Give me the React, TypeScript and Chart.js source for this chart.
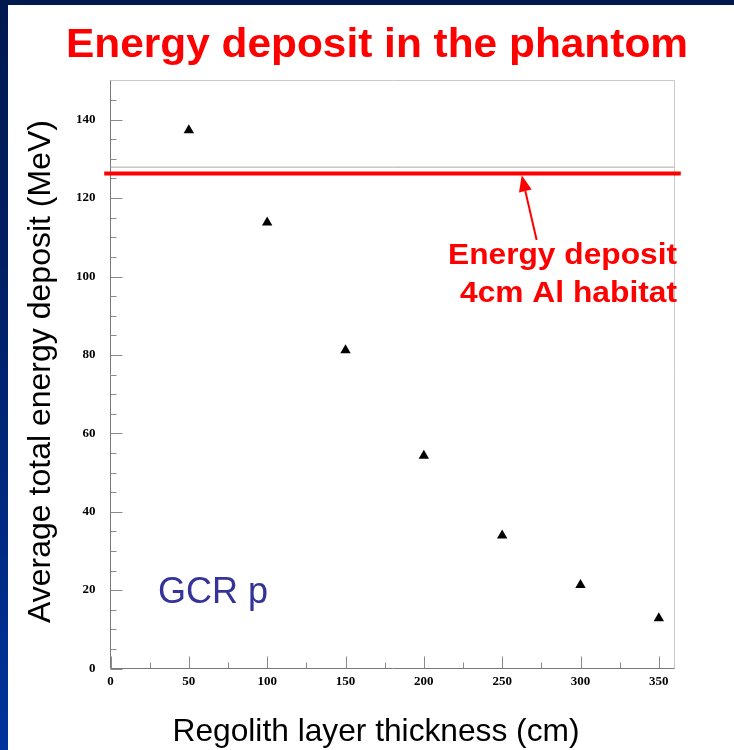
import React, { useEffect, useRef } from "react";
import { Chart, registerables } from "chart.js";

Chart.register(...registerables);

// ---- Data ----
const thicknessCm = [50, 100, 150, 200, 250, 300, 350];
const avgDepositMeV = [137.3, 113.8, 81.2, 54.3, 33.9, 21.3, 12.8];
const xMajorTicks = [0, 50, 100, 150, 200, 250, 300, 350];
const yMajorTicks = [0, 20, 40, 60, 80, 100, 120, 140];
const habitatDeposit = 126.3; // 4cm Al habitat level (red line)
const referenceLevel = 127.9; // thin grey line
const redLineSpan = [-4, 364];
const greyLineSpan = [0, 360];
const arrowTail = { x: 272.0, y: 109.3 };
const arrowTip = { x: 262.5, y: 125.8 };

const titleText = "Energy deposit in the phantom";
const xTitle = "Regolith layer thickness (cm)";
const yTitle = "Average total energy deposit (MeV)";
const noteLines = ["Energy deposit", "4cm Al habitat"];
const seriesLabel = "GCR p";

const SANS = '"Liberation Sans", Arial, Helvetica, sans-serif';
const SERIF = '"Liberation Serif", "Times New Roman", serif';

function fitText(
  ctx: CanvasRenderingContext2D,
  text: string,
  x: number,
  y: number,
  font: string,
  color: string,
  width: number | null,
  align: "left" | "right" | "center"
) {
  ctx.save();
  ctx.font = font;
  ctx.fillStyle = color;
  ctx.textBaseline = "alphabetic";
  ctx.textAlign = "left";
  const w = ctx.measureText(text).width;
  const s = width ? width / w : 1;
  const left = align === "left" ? x : align === "right" ? x - w * s : x - (w * s) / 2;
  ctx.translate(left, y);
  ctx.scale(s, 1);
  ctx.fillText(text, 0, 0);
  ctx.restore();
}

const decorPlugin = {
  id: "decor",
  beforeDraw(chart: any) {
    const ctx: CanvasRenderingContext2D = chart.ctx;
    const W = chart.width;
    const H = chart.height;
    ctx.save();
    ctx.fillStyle = "#001a50";
    ctx.fillRect(0, 0, W, H);
    ctx.fillStyle = "#ffffff";
    ctx.fillRect(8, 5, W - 8, H - 5);
    const g = ctx.createLinearGradient(0, 0, 0, H);
    g.addColorStop(0, "#001a50");
    g.addColorStop(0.35, "#001f63");
    g.addColorStop(1, "#00339c");
    ctx.fillStyle = g;
    ctx.fillRect(0, 5, 8, H - 5);
    ctx.restore();
  },
  beforeDatasetsDraw(chart: any) {
    const ctx: CanvasRenderingContext2D = chart.ctx;
    const a = chart.chartArea;
    const xs = chart.scales.x;
    const ys = chart.scales.y;
    ctx.save();
    ctx.lineWidth = 1;
    // frame
    ctx.strokeStyle = "#c8c8c8";
    ctx.beginPath();
    ctx.moveTo(a.left, a.top);
    ctx.lineTo(a.right, a.top);
    ctx.lineTo(a.right, a.bottom);
    ctx.stroke();
    ctx.strokeStyle = "#7a7a7a";
    ctx.beginPath();
    ctx.moveTo(a.left, a.top);
    ctx.lineTo(a.left, a.bottom);
    ctx.lineTo(a.right, a.bottom);
    ctx.stroke();
    // inner ticks
    ctx.strokeStyle = "#8a8a8a";
    ctx.beginPath();
    for (let v = 0; v < 150; v += 5) {
      const py = Math.round(ys.getPixelForValue(v)) + 0.5;
      const len = v % 20 === 0 ? 12 : 6;
      ctx.moveTo(a.left, py);
      ctx.lineTo(a.left + len, py);
    }
    for (let v = 0; v <= 350; v += 25) {
      const px = Math.round(xs.getPixelForValue(v)) + 0.5;
      const len = v % 50 === 0 ? 12 : 6;
      ctx.moveTo(px, a.bottom);
      ctx.lineTo(px, a.bottom - len);
    }
    ctx.stroke();
    ctx.restore();
  },
  afterDraw(chart: any) {
    const ctx: CanvasRenderingContext2D = chart.ctx;
    const xs = chart.scales.x;
    const ys = chart.scales.y;
    // title
    fitText(ctx, titleText, 66, 57, `bold 40px ${SANS}`, "#ff0000", 622, "left");
    // axis titles
    fitText(ctx, xTitle, 376, 741, `32px ${SANS}`, "#000000", 407, "center");
    ctx.save();
    ctx.translate(50, 623);
    ctx.rotate(-Math.PI / 2);
    fitText(ctx, yTitle, 0, 0, `32px ${SANS}`, "#000000", 503, "left");
    ctx.restore();
    // series label
    fitText(ctx, seriesLabel, 158, 603, `36px ${SANS}`, "#333399", 110, "left");
    // annotation text
    fitText(ctx, noteLines[0], 677, 264, `bold 30px ${SANS}`, "#ff0000", 229, "right");
    fitText(ctx, noteLines[1], 677, 302, `bold 30px ${SANS}`, "#ff0000", 217, "right");
    // arrow
    const tx = xs.getPixelForValue(arrowTail.x);
    const ty = ys.getPixelForValue(arrowTail.y);
    const hx = xs.getPixelForValue(arrowTip.x);
    const hy = ys.getPixelForValue(arrowTip.y);
    const ang = Math.atan2(hy - ty, hx - tx);
    const headLen = 16;
    const headHalf = 6.5;
    const bx = hx - Math.cos(ang) * headLen;
    const by = hy - Math.sin(ang) * headLen;
    ctx.save();
    ctx.strokeStyle = "#ff0000";
    ctx.fillStyle = "#ff0000";
    ctx.lineWidth = 2;
    ctx.beginPath();
    ctx.moveTo(tx, ty);
    ctx.lineTo(bx, by);
    ctx.stroke();
    ctx.beginPath();
    ctx.moveTo(hx, hy);
    ctx.lineTo(bx + Math.sin(ang) * headHalf, by - Math.cos(ang) * headHalf);
    ctx.lineTo(bx - Math.sin(ang) * headHalf, by + Math.cos(ang) * headHalf);
    ctx.closePath();
    ctx.fill();
    ctx.restore();
  },
};

export default function App() {
  const ref = useRef<HTMLCanvasElement | null>(null);

  useEffect(() => {
    if (!ref.current) return;
    const chart = new Chart(ref.current, {
      type: "scatter",
      data: {
        datasets: [
          {
            label: "4cm Al habitat",
            data: redLineSpan.map((x) => ({ x, y: habitatDeposit })),
            showLine: true,
            borderColor: "#ff0000",
            borderWidth: 4,
            pointRadius: 0,
            clip: false as any,
          },
          {
            label: "reference",
            data: greyLineSpan.map((x) => ({ x, y: referenceLevel })),
            showLine: true,
            borderColor: "#a8a8a8",
            borderWidth: 1,
            pointRadius: 0,
          },
          {
            label: seriesLabel,
            data: thicknessCm.map((x, i) => ({ x, y: avgDepositMeV[i] })),
            pointStyle: "triangle",
            pointRadius: 6,
            backgroundColor: "#000000",
            borderColor: "#000000",
            borderWidth: 0,
            clip: false as any,
          },
        ],
      },
      options: {
        animation: false,
        responsive: false,
        maintainAspectRatio: false,
        events: [],
        layout: { padding: { left: 0, top: 80.5, right: 59.5, bottom: 0 } },
        plugins: {
          legend: { display: false },
          tooltip: { enabled: false },
          title: { display: false },
        },
        scales: {
          x: {
            type: "linear",
            min: 0,
            max: 360,
            afterBuildTicks: (s: any) => {
              s.ticks = xMajorTicks.map((value) => ({ value }));
            },
            afterFit: (s: any) => {
              s.height = 81.5;
            },
            grid: { display: false, drawTicks: false },
            border: { display: false },
            ticks: {
              autoSkip: false,
              maxRotation: 0,
              padding: 5,
              color: "#000000",
              font: { family: SERIF, size: 13, weight: "bold" },
            },
          },
          y: {
            type: "linear",
            min: 0,
            max: 150,
            afterBuildTicks: (s: any) => {
              s.ticks = yMajorTicks.map((value) => ({ value }));
            },
            afterFit: (s: any) => {
              s.width = 110.5;
            },
            grid: { display: false, drawTicks: false },
            border: { display: false },
            ticks: {
              autoSkip: false,
              padding: 15,
              color: "#000000",
              font: { family: SERIF, size: 13, weight: "bold" },
            },
          },
        },
      },
      plugins: [decorPlugin],
    } as any);
    return () => chart.destroy();
  }, []);

  return (
    <div style={{ position: "absolute", left: 0, top: 0, width: 734, height: 750 }}>
      <canvas ref={ref} width={734} height={750} style={{ display: "block", width: 734, height: 750 }} />
    </div>
  );
}
